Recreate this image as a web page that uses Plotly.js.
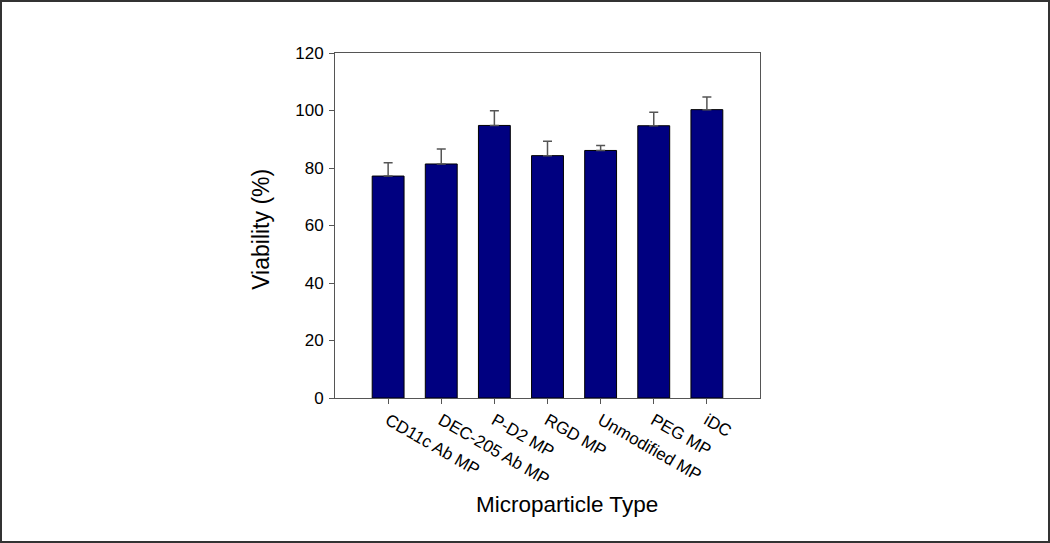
<!DOCTYPE html>
<html>
<head>
<meta charset="utf-8">
<script src="https://cdn.plot.ly/plotly-3.0.1.min.js"></script>
<style>
html, body { margin: 0; padding: 0; background: #fff; }
#frame { width: 1050px; height: 543px; box-sizing: border-box; border: 2px solid #333; overflow: hidden; }
#chart { width: 1046px; height: 539px; }
</style>
</head>
<body>
<div id="frame"><div id="chart"></div></div>
<script>
const categories = ["CD11c Ab MP", "DEC-205 Ab MP", "P-D2 MP", "RGD MP", "Unmodified MP", "PEG MP", "iDC"];
const viability = [77.2, 81.4, 94.8, 84.3, 86.1, 94.7, 100.3];
const errorUp = [4.6, 5.2, 5.1, 5.0, 1.7, 4.7, 4.4];
const yTicks = [0, 20, 40, 60, 80, 100, 120];

const font = "Liberation Sans, Arial, sans-serif";
const trace = {
  type: "bar",
  x: categories.map((c, i) => i),
  y: viability,
  width: 0.6,
  marker: { color: "#000080", line: { color: "#000", width: 1 } },
  error_y: { type: "data", symmetric: false, array: errorUp, arrayminus: categories.map(() => 0), color: "#555", thickness: 1.5, width: 4.5 },
  hoverinfo: "none"
};
const layout = {
  width: 1046, height: 539,
  margin: { l: 333, r: 288, t: 51, b: 143 },
  paper_bgcolor: "#fff", plot_bgcolor: "#fff",
  showlegend: false,
  font: { family: font, color: "#000" },
  xaxis: {
    range: [-1, 7],
    tickmode: "array", tickvals: categories.map((c, i) => i), ticktext: categories,
    tickangle: 30, ticks: "outside", ticklen: 5, tickcolor: "#555", tickwidth: 1,
    tickfont: { size: 17, family: font, color: "#000" },
    showline: true, linecolor: "#555", linewidth: 1, mirror: true,
    showgrid: false, zeroline: false, fixedrange: true
  },
  yaxis: {
    range: [0, 120],
    tickmode: "array", tickvals: yTicks, ticktext: yTicks.map(String),
    ticks: "outside", ticklen: 5, tickcolor: "#555", tickwidth: 1,
    ticklabelstandoff: 2,
    tickfont: { size: 17, family: font, color: "#000" },
    showline: true, linecolor: "#555", linewidth: 1, mirror: true,
    showgrid: false, zeroline: false, fixedrange: true
  },
  annotations: [
    { text: "Viability (%)", xref: "paper", yref: "paper", x: -0.176, y: 0.488, xanchor: "center", yanchor: "middle",
      textangle: -90, showarrow: false, font: { size: 23, family: font, color: "#000" } },
    { text: "Microparticle Type", xref: "paper", yref: "paper", x: 0.545, y: -0.31, xanchor: "center", yanchor: "middle",
      showarrow: false, font: { size: 22.5, family: font, color: "#000" } }
  ]
};
Plotly.newPlot("chart", [trace], layout, { displayModeBar: false, staticPlot: true });
</script>
</body>
</html>
